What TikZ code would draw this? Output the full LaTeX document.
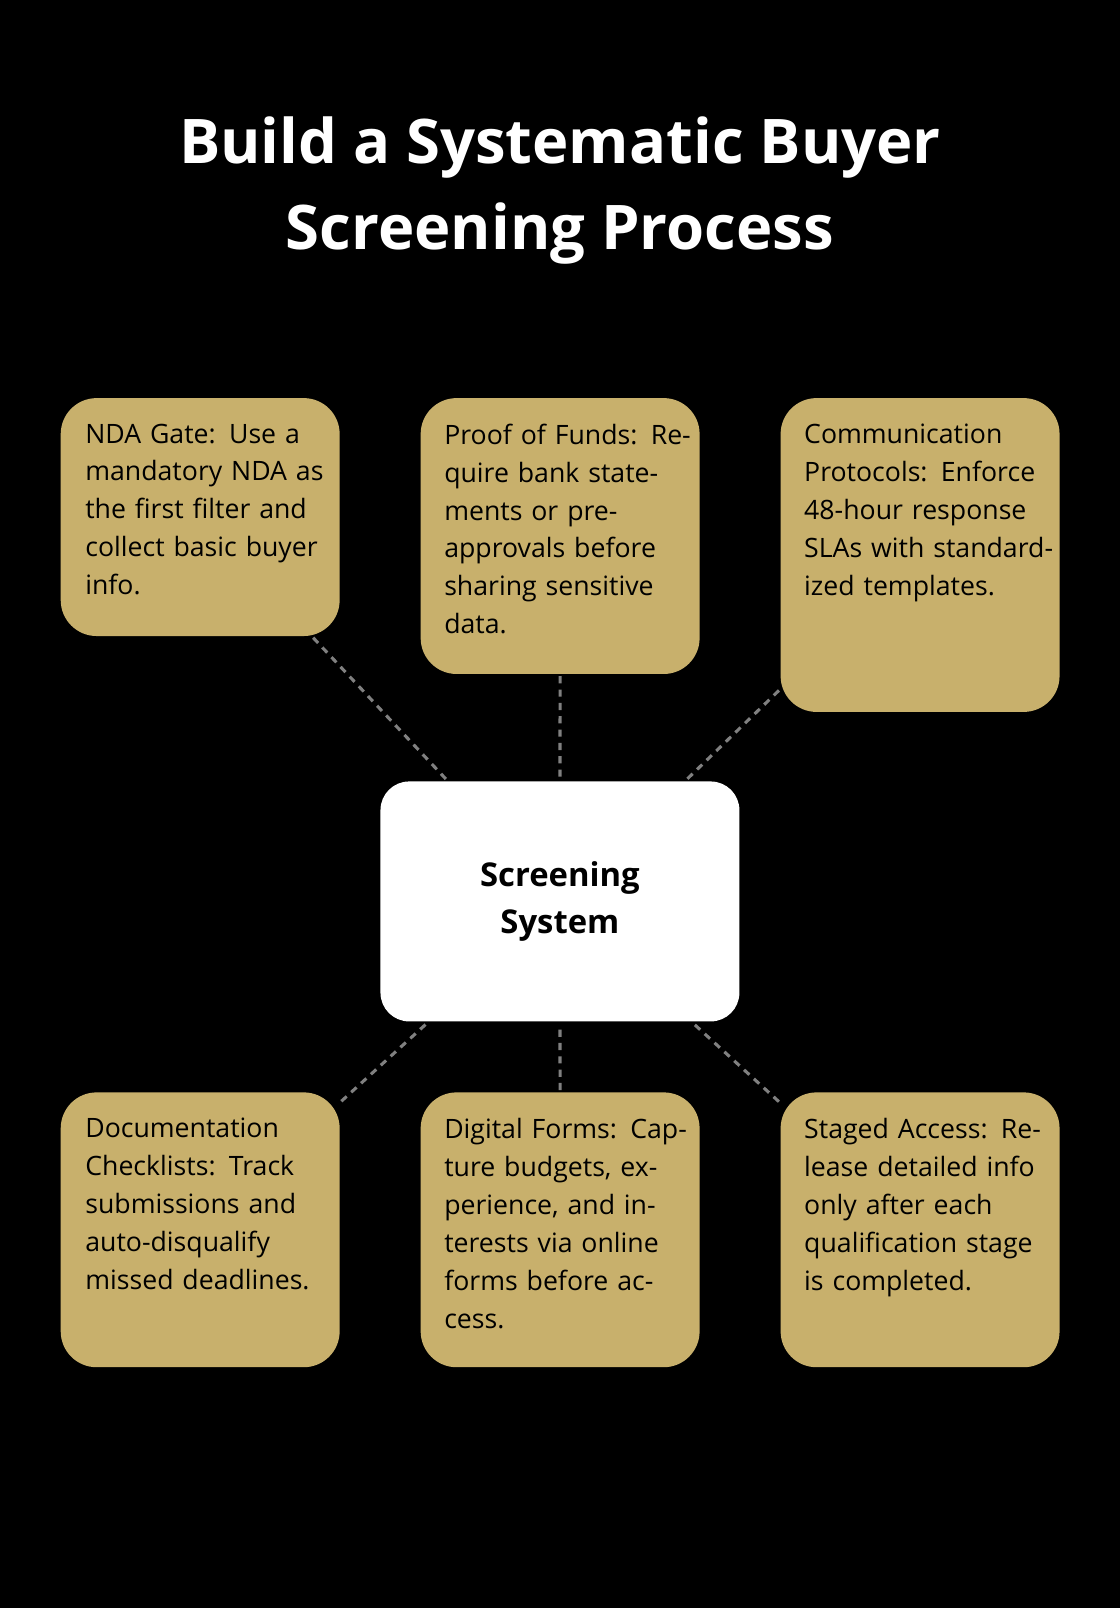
\documentclass[tikz,border=0pt]{standalone}
\usepackage{fontspec}
\setmainfont{Open Sans}
\definecolor{gold}{HTML}{C8B06C}
\definecolor{link}{HTML}{808080}
\begin{document}
\begin{tikzpicture}[x=1pt,y=-1pt,
  box/.style={draw=none,fill=gold,rounded corners=35pt,anchor=north west,minimum width=272pt,inner sep=0pt},
  txt/.style={anchor=north west,text width=250pt,align=left,inner sep=0pt,font=\fontsize{26}{37}\selectfont,text=black},
  link/.style={draw=link,line width=3pt,dash pattern=on 7pt off 6pt}]
\fill[black] (0,0) rectangle (1092,1568);
\useasboundingbox (0,0) rectangle (1092,1568);
\node[font=\fontsize{60}{84}\bfseries\selectfont,text=white,align=center] (title) at (546,186) {Build a Systematic Buyer\\Screening Process};
\node[box,minimum height=232pt] (b1) at (59,388) {};
\node[box,minimum height=269pt] (b2) at (410,388) {};
\node[box,minimum height=306pt] (b3) at (761,388) {};
\node[box,minimum height=268pt] (b4) at (59,1065) {};
\node[box,minimum height=268pt] (b5) at (410,1065) {};
\node[box,minimum height=268pt] (b6) at (761,1065) {};
\node[fill=white,rounded corners=28pt,minimum width=350pt,minimum height=234pt,inner sep=0pt,font=\fontsize{32}{46}\bfseries\selectfont,align=center] (c) at (546,879) {Screening\\System};
\node[txt] (t1) at (83,413) {NDA Gate: Use a mandatory NDA as the first filter and collect basic buyer info.};
\node[txt] (t2) at (433,413) {Proof of Funds: Require bank statements or pre-approvals before sharing sensitive data.};
\node[txt] (t3) at (784,413) {Communication Protocols: Enforce 48-hour response SLAs with standardized templates.};
\node[txt] (t4) at (83,1090) {Documentation Checklists: Track submissions and auto-disqualify missed deadlines.};
\node[txt] (t5) at (433,1090) {Digital Forms: Capture budgets, experience, and interests via online forms before access.};
\node[txt] (t6) at (784,1090) {Staged Access: Release detailed info only after each qualification stage is completed.};
\foreach \b in {b1,b2,b3,b4,b5,b6} \draw[link,shorten <=2pt,shorten >=2pt] (\b) -- (c);
\end{tikzpicture}
\end{document}
